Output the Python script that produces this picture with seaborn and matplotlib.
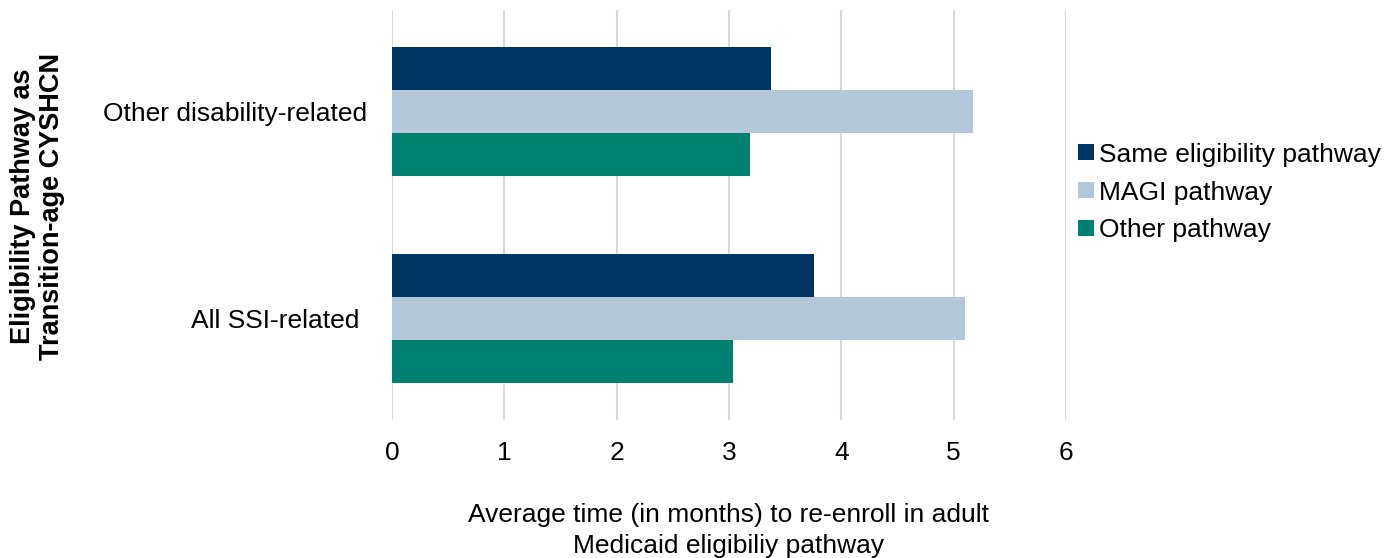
import matplotlib
matplotlib.use("Agg")
import matplotlib.pyplot as plt
import seaborn as sns
import pandas as pd

categories = ["Other disability-related", "All SSI-related "]
series = ["Same eligibility pathway", "MAGI pathway", "Other pathway"]
same_vals = [3.37, 3.76]
magi_vals = [5.17, 5.10]
other_vals = [3.19, 3.04]
colors = ["#003462", "#b3c7d8", "#008070"]
xticks = [0, 1, 2, 3, 4, 5, 6]

rows = []
for s, vals in zip(series, [same_vals, magi_vals, other_vals]):
    for c, v in zip(categories, vals):
        rows.append({"cat": c, "series": s, "value": v})
df = pd.DataFrame(rows)

sns.set_theme(style="white")
plt.rcParams["font.family"] = ["Liberation Sans", "DejaVu Sans"]
plt.rcParams["text.color"] = "black"
plt.rcParams["axes.labelcolor"] = "black"

FS = 19

fig = plt.figure(figsize=(13.96, 5.58), dpi=100)
ax = fig.add_axes([0.2808, 0.247, 0.4828, 0.735])

sns.barplot(data=df, y="cat", x="value", hue="series", order=categories,
            hue_order=series, palette=colors, orient="h", width=0.62,
            saturation=1, linewidth=0, ax=ax, legend=True)

ax.set_xlim(0, 6)
ax.set_ylim(1.49, -0.49)
ax.set_xticks(xticks)
ax.set_xticklabels([str(t) for t in xticks])
ax.xaxis.grid(True, color="#d9d9d9", linewidth=1.5)
ax.set_axisbelow(True)
for sp in ax.spines.values():
    sp.set_visible(False)
ax.tick_params(axis="x", length=0, pad=15, labelsize=FS, colors="black")
ax.tick_params(axis="y", length=0, pad=18, labelsize=FS, colors="black")
ax.set_xlabel("Average time (in months) to re-enroll in adult\nMedicaid eligibiliy pathway",
              fontsize=FS, labelpad=27, linespacing=1.4)
ax.set_ylabel("Eligibility Pathway as\nTransition-age CYSHCN", fontsize=19.5,
              fontweight="bold", labelpad=27, linespacing=1.15, y=0.522)

handles, labels = ax.get_legend_handles_labels()
ax.get_legend().remove()
fig.legend(handles, labels, loc="center left", bbox_to_anchor=(0.765, 0.655),
           frameon=False, fontsize=FS, handlelength=0.58, handleheight=0.58,
           handletextpad=0.18, labelspacing=0.53, borderaxespad=0)

fig.savefig("out.png", dpi=100)
